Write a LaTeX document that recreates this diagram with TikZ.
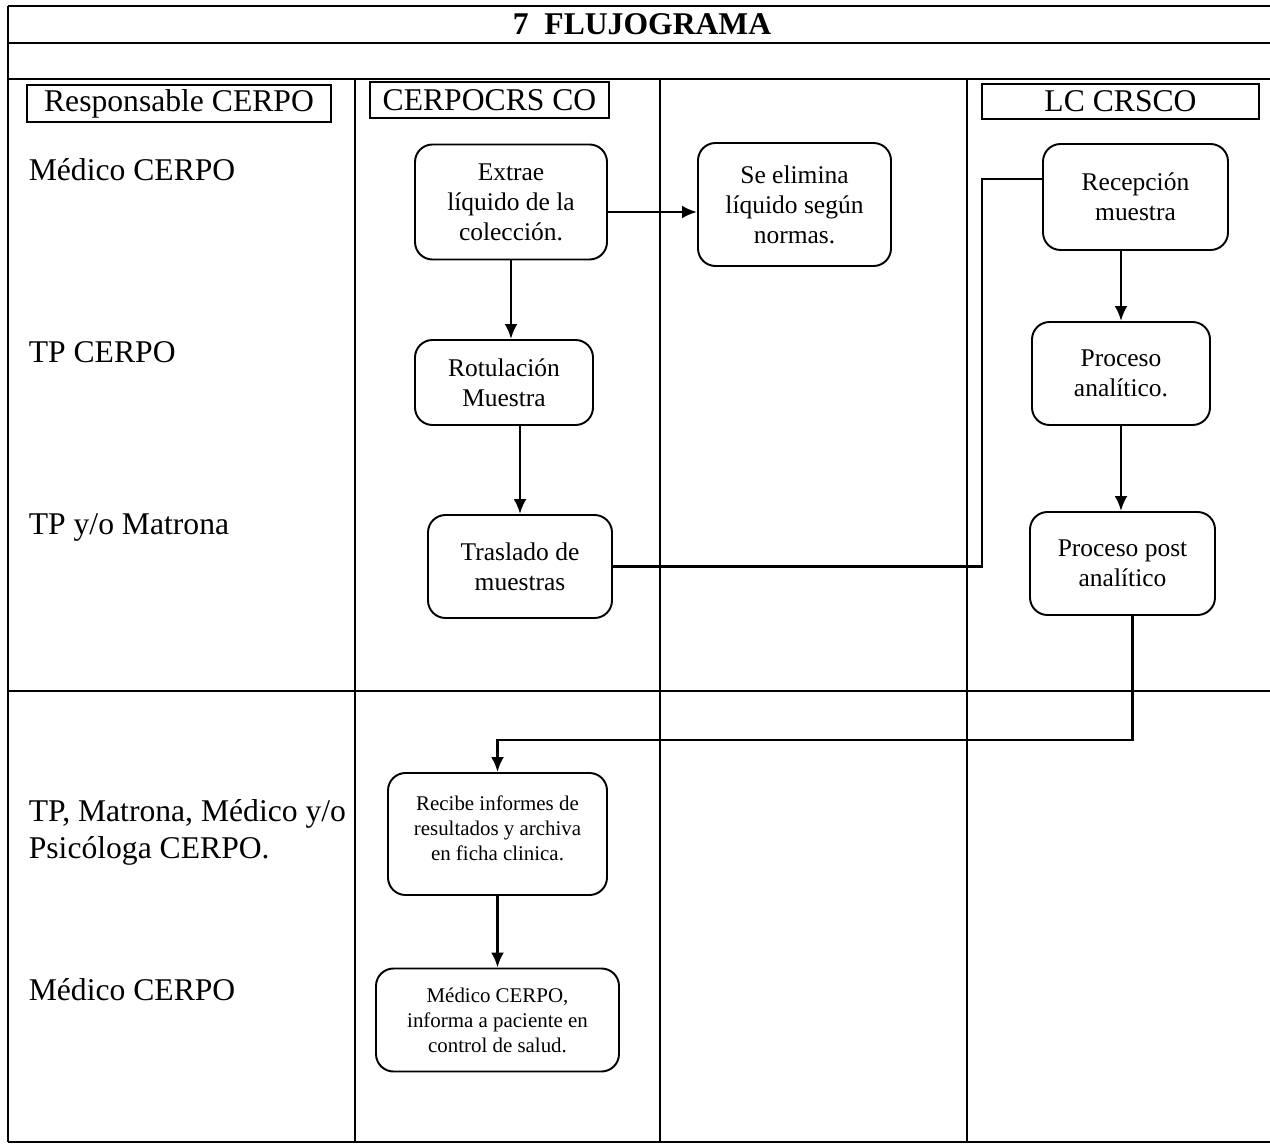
\documentclass[tikz,border=0pt]{standalone}
\usepackage{fontspec}
\setmainfont{Liberation Serif}
\usetikzlibrary{arrows.meta}
\tikzset{
	caja/.style={draw,rounded corners=0.35cm,align=center,inner sep=2pt,font=\fontsize{14.5}{17}\selectfont},
	chica/.style={caja,font=\fontsize{11.9}{14.3}\selectfont},
	encab/.style={draw,inner sep=0pt,font=\fontsize{18}{21}\selectfont},
	rol/.style={anchor=west,align=left,font=\fontsize{18}{21}\selectfont},
	flecha/.style={line width=1.6pt}
}
\begin{document}
\begin{tikzpicture}[>={Latex[length=3mm,width=2.6mm]},line width=1.1pt]
\useasboundingbox (0,0) rectangle (25.4,-22.9);
\foreach \y in {-0.12,-0.86,-1.58,-13.82,-22.84}{
	\draw (0.16,\y) -- (25.4,\y);
}
\foreach \x in {7.1,13.2,19.34}{
	\draw (\x,-1.58) -- (\x,-22.84);
}
\draw (0.16,-0.12) -- (0.16,-22.84);
\node (titulo) at (12.84,-0.49) {\fontsize{18}{21}\selectfont\bfseries 7\ \ FLUJOGRAMA};
\node[encab,minimum width=6.08cm,minimum height=0.74cm] (hresp) at (3.58,-2.07) {Responsable CERPO};
\node[encab,minimum width=4.78cm,minimum height=0.72cm] (hcerpo) at (9.79,-2.0) {CERPOCRS CO};
\node[encab,minimum width=5.54cm,minimum height=0.7cm] (hlab) at (22.41,-2.03) {LC CRSCO};
\node[rol] (r1) at (0.44,-3.4) {Médico CERPO};
\node[rol] (r2) at (0.44,-7.04) {TP CERPO};
\node[rol] (r3) at (0.44,-10.54) {TP y/o Matrona};
\node[rol] (r4) at (0.44,-16.64) {TP, Matrona, Médico y/o\\Psicóloga CERPO.};
\node[rol] (r5) at (0.44,-19.8) {Médico CERPO};
\node[caja,minimum width=3.84cm,minimum height=2.3cm] (extrae) at (10.22,-4.04) {Extrae\\líquido de la\\colección.};
\node[caja,minimum width=3.86cm,minimum height=2.46cm] (elimina) at (15.89,-4.09) {Se elimina\\líquido según\\normas.};
\node[caja,minimum width=3.56cm,minimum height=1.7cm] (rotula) at (10.08,-7.65) {Rotulación\\Muestra};
\node[caja,minimum width=3.68cm,minimum height=2.06cm] (traslado) at (10.4,-11.33) {Traslado de\\muestras};
\node[caja,minimum width=3.7cm,minimum height=2.12cm] (recepcion) at (22.71,-3.94) {Recepción\\muestra};
\node[caja,minimum width=3.56cm,minimum height=2.06cm] (analitico) at (22.42,-7.47) {Proceso\\analítico.};
\node[caja,minimum width=3.7cm,minimum height=2.06cm] (post) at (22.45,-11.27) {Proceso post\\analítico};
\node[chica,minimum width=4.38cm,minimum height=2.44cm] (recibe) at (9.95,-16.68) {Recibe informes de\\resultados y archiva\\en ficha clinica.\\[-8pt]};
\node[chica,minimum width=4.86cm,minimum height=2.06cm] (informa) at (9.95,-20.4) {Médico CERPO,\\informa a paciente en\\control de salud.};
\coordinate (codo1) at (19.64,0);
\coordinate (codo2) at (0,-14.8);
\draw[flecha,->] ([yshift=-0.2cm]extrae.east) -- ([yshift=-0.2cm]extrae.east -| elimina.west);
\draw[flecha,->] (extrae.south) -- (extrae.south |- rotula.north);
\draw[flecha,->] (traslado.north |- rotula.south) -- (traslado.north);
\draw[flecha] (traslado.east) -| (codo1 |- 0,-3.58) -- ([yshift=0.36cm]recepcion.west);
\draw[flecha,->] (recepcion.south -| analitico.north) -- (analitico.north);
\draw[flecha,->] (analitico.south) -- (analitico.south |- post.north);
\draw[flecha,->] ([xshift=0.2cm]post.south) |- (codo2 -| recibe.north) -- (recibe.north);
\draw[flecha,->] (recibe.south) -- (informa.north);
\end{tikzpicture}
\end{document}
